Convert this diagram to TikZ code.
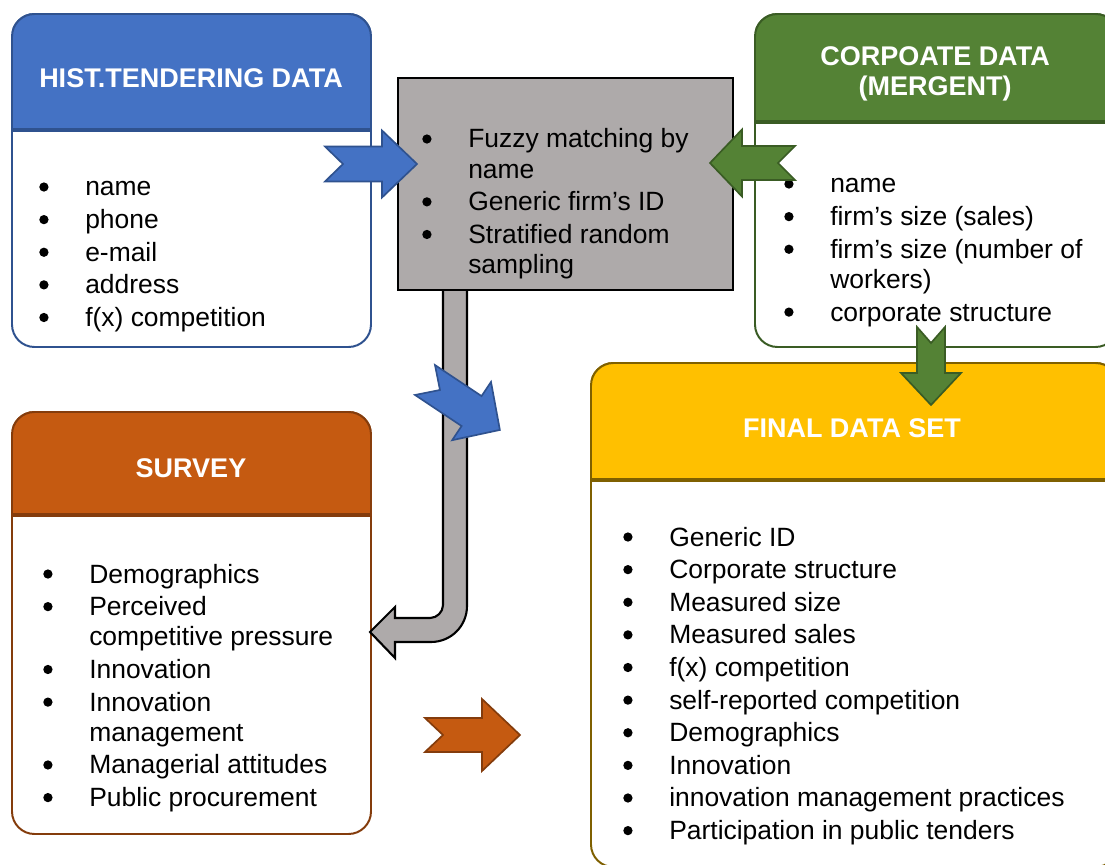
\documentclass[tikz,border=0pt]{standalone}
\usepackage{fontspec}
\setmainfont{Liberation Sans}
\usepackage{xcolor}
\definecolor{histbg}{HTML}{4472C4}
\definecolor{histbd}{HTML}{2F528F}
\definecolor{corpbg}{HTML}{548235}
\definecolor{corpbd}{HTML}{3A5C24}
\definecolor{survbg}{HTML}{C55A11}
\definecolor{survbd}{HTML}{843C0C}
\definecolor{finalbg}{HTML}{FFC000}
\definecolor{finalbd}{HTML}{7F6000}
\definecolor{shaftbg}{HTML}{AEAAAA}
\usepackage{tikz}

% list bullet
\newcommand{\bdot}{\tikz[baseline=0pt]\fill (3.3pt,0.34em) circle (3.3pt);}
% box with coloured header: fill, border, x1, y1, x2, y2, header bottom
\newcommand{\databox}[7]{%
  \draw[boxline, draw=#2, fill=white] (#3,#4) rectangle (#5,#6);
  \begin{scope}
    \clip (#3,#4) rectangle (#5,#7);
    \draw[boxline, draw=#2, fill=#1] (#3,#4) rectangle (#5,#7+40);
  \end{scope}
  \draw[draw=#2, line width=2.5pt] (#3,#7) -- (#5,#7);}
% notched block arrow: style, tail, angle, length, head length, half width, head half width, notch
\newcommand{\notcharrow}[8]{%
  \draw[#1, shift={#2}, rotate=#3]
    (0,#6) -- ({#4-#5},#6) -- ({#4-#5},#7) -- (#4,0) -- ({#4-#5},-#7)
    -- ({#4-#5},-#6) -- (0,-#6) -- (#8,0) -- cycle;}

\begin{document}
\begin{tikzpicture}[
  x=0.025cm, y=-0.025cm,
  boxline/.style={line width=1.4pt, rounded corners=16pt},
  head/.style={font=\fontsize{19.2}{21.3}\selectfont\bfseries, text=white,
              align=center, inner sep=0pt},
  list/.style={font=\fontsize{18.8}{21.5}\selectfont, anchor=base west, inner sep=0pt},
  shaft/.style={fill=shaftbg, draw=black, line width=1.5pt},
  histarrow/.style={fill=histbg, draw=histbd, line width=1.2pt},
  corparrow/.style={fill=corpbg, draw=corpbd, line width=1.2pt},
  survarrow/.style={fill=survbg, draw=survbd, line width=1.2pt},
]
\useasboundingbox (0,0) rectangle (1105,865);
\clip (0,0) rectangle (1105,865);

% Boxes
\databox{histbg}{histbd}{12}{14}{371}{347}{130}
\databox{corpbg}{corpbd}{755}{14}{1118}{347}{122}
\databox{survbg}{survbd}{12}{412}{371}{834}{515}
\databox{finalbg}{finalbd}{591}{363}{1118}{867}{480}

% Bent arrow from the matching step down to the survey
\draw[shaft] (443,280) -- (443,605) .. controls (443,612) and (437,618) .. (430,618)
  -- (395,618) -- (395,607) -- (370,632) -- (395,658) -- (395,642) -- (431,642)
  .. controls (451,642) and (467,626) .. (467,606) -- (467,280) -- cycle;

% Matching step
\draw[shaft, line width=1.4pt] (398,78) rectangle (733,290);

% Headers
\node[head] (histhead) at (191,78) {HIST.TENDERING DATA};
\node[head] (corphead) at (935,74) {CORPOATE DATA\\(MERGENT)};
\node[head] (survhead) at (191,468) {SURVEY};
\node[head] (finalhead) at (852,428) {FINAL DATA SET};

% Lists
\node[list] (histlist) at (39,196) {\begin{tabular}[t]{@{}p{32.7pt}@{}l@{}}
\bdot & name\\[1.7pt]
\bdot & phone\\[1.7pt]
\bdot & e-mail\\[1.7pt]
\bdot & address\\[1.7pt]
\bdot & f(x) competition
\end{tabular}};

\node[list] (matchlist) at (422,148) {\begin{tabular}[t]{@{}p{32.7pt}@{}l@{}}
\bdot & Fuzzy matching by\\
      & name\\[1.7pt]
\bdot & Generic firm’s ID\\[1.7pt]
\bdot & Stratified random\\
      & sampling
\end{tabular}};

\node[list] (corplist) at (784,193) {\begin{tabular}[t]{@{}p{32.7pt}@{}l@{}}
\bdot & name\\[1.7pt]
\bdot & firm’s size (sales)\\[1.7pt]
\bdot & firm’s size (number of\\
      & workers)\\[1.7pt]
\bdot & corporate structure
\end{tabular}};

\node[list] (survlist) at (43,583) {\begin{tabular}[t]{@{}p{32.7pt}@{}l@{}}
\bdot & Demographics\\[1.7pt]
\bdot & Perceived\\
      & competitive pressure\\[1.7pt]
\bdot & Innovation\\[1.7pt]
\bdot & Innovation\\
      & management\\[1.7pt]
\bdot & Managerial attitudes\\[1.7pt]
\bdot & Public procurement
\end{tabular}};

\node[list] (finallist) at (623,546) {\begin{tabular}[t]{@{}p{32.7pt}@{}l@{}}
\bdot & Generic ID\\[1.7pt]
\bdot & Corporate structure\\[1.7pt]
\bdot & Measured size\\[1.7pt]
\bdot & Measured sales\\[1.7pt]
\bdot & f(x) competition\\[1.7pt]
\bdot & self-reported competition\\[1.7pt]
\bdot & Demographics\\[1.7pt]
\bdot & Innovation\\[1.7pt]
\bdot & innovation management practices\\[1.7pt]
\bdot & Participation in public tenders
\end{tabular}};

% Block arrows
\notcharrow{histarrow}{(325,164)}{0}{92}{35}{17.5}{33.5}{18}
\notcharrow{corparrow}{(795,163)}{180}{85}{32}{17}{33.5}{17}
\notcharrow{histarrow}{(425,380)}{-33.7}{90}{34}{18}{35}{18}
\notcharrow{survarrow}{(425,735)}{0}{95}{38}{17}{36}{18}
\notcharrow{corparrow}{(931,327)}{-90}{78}{32}{14}{30}{16}
\end{tikzpicture}
\end{document}
